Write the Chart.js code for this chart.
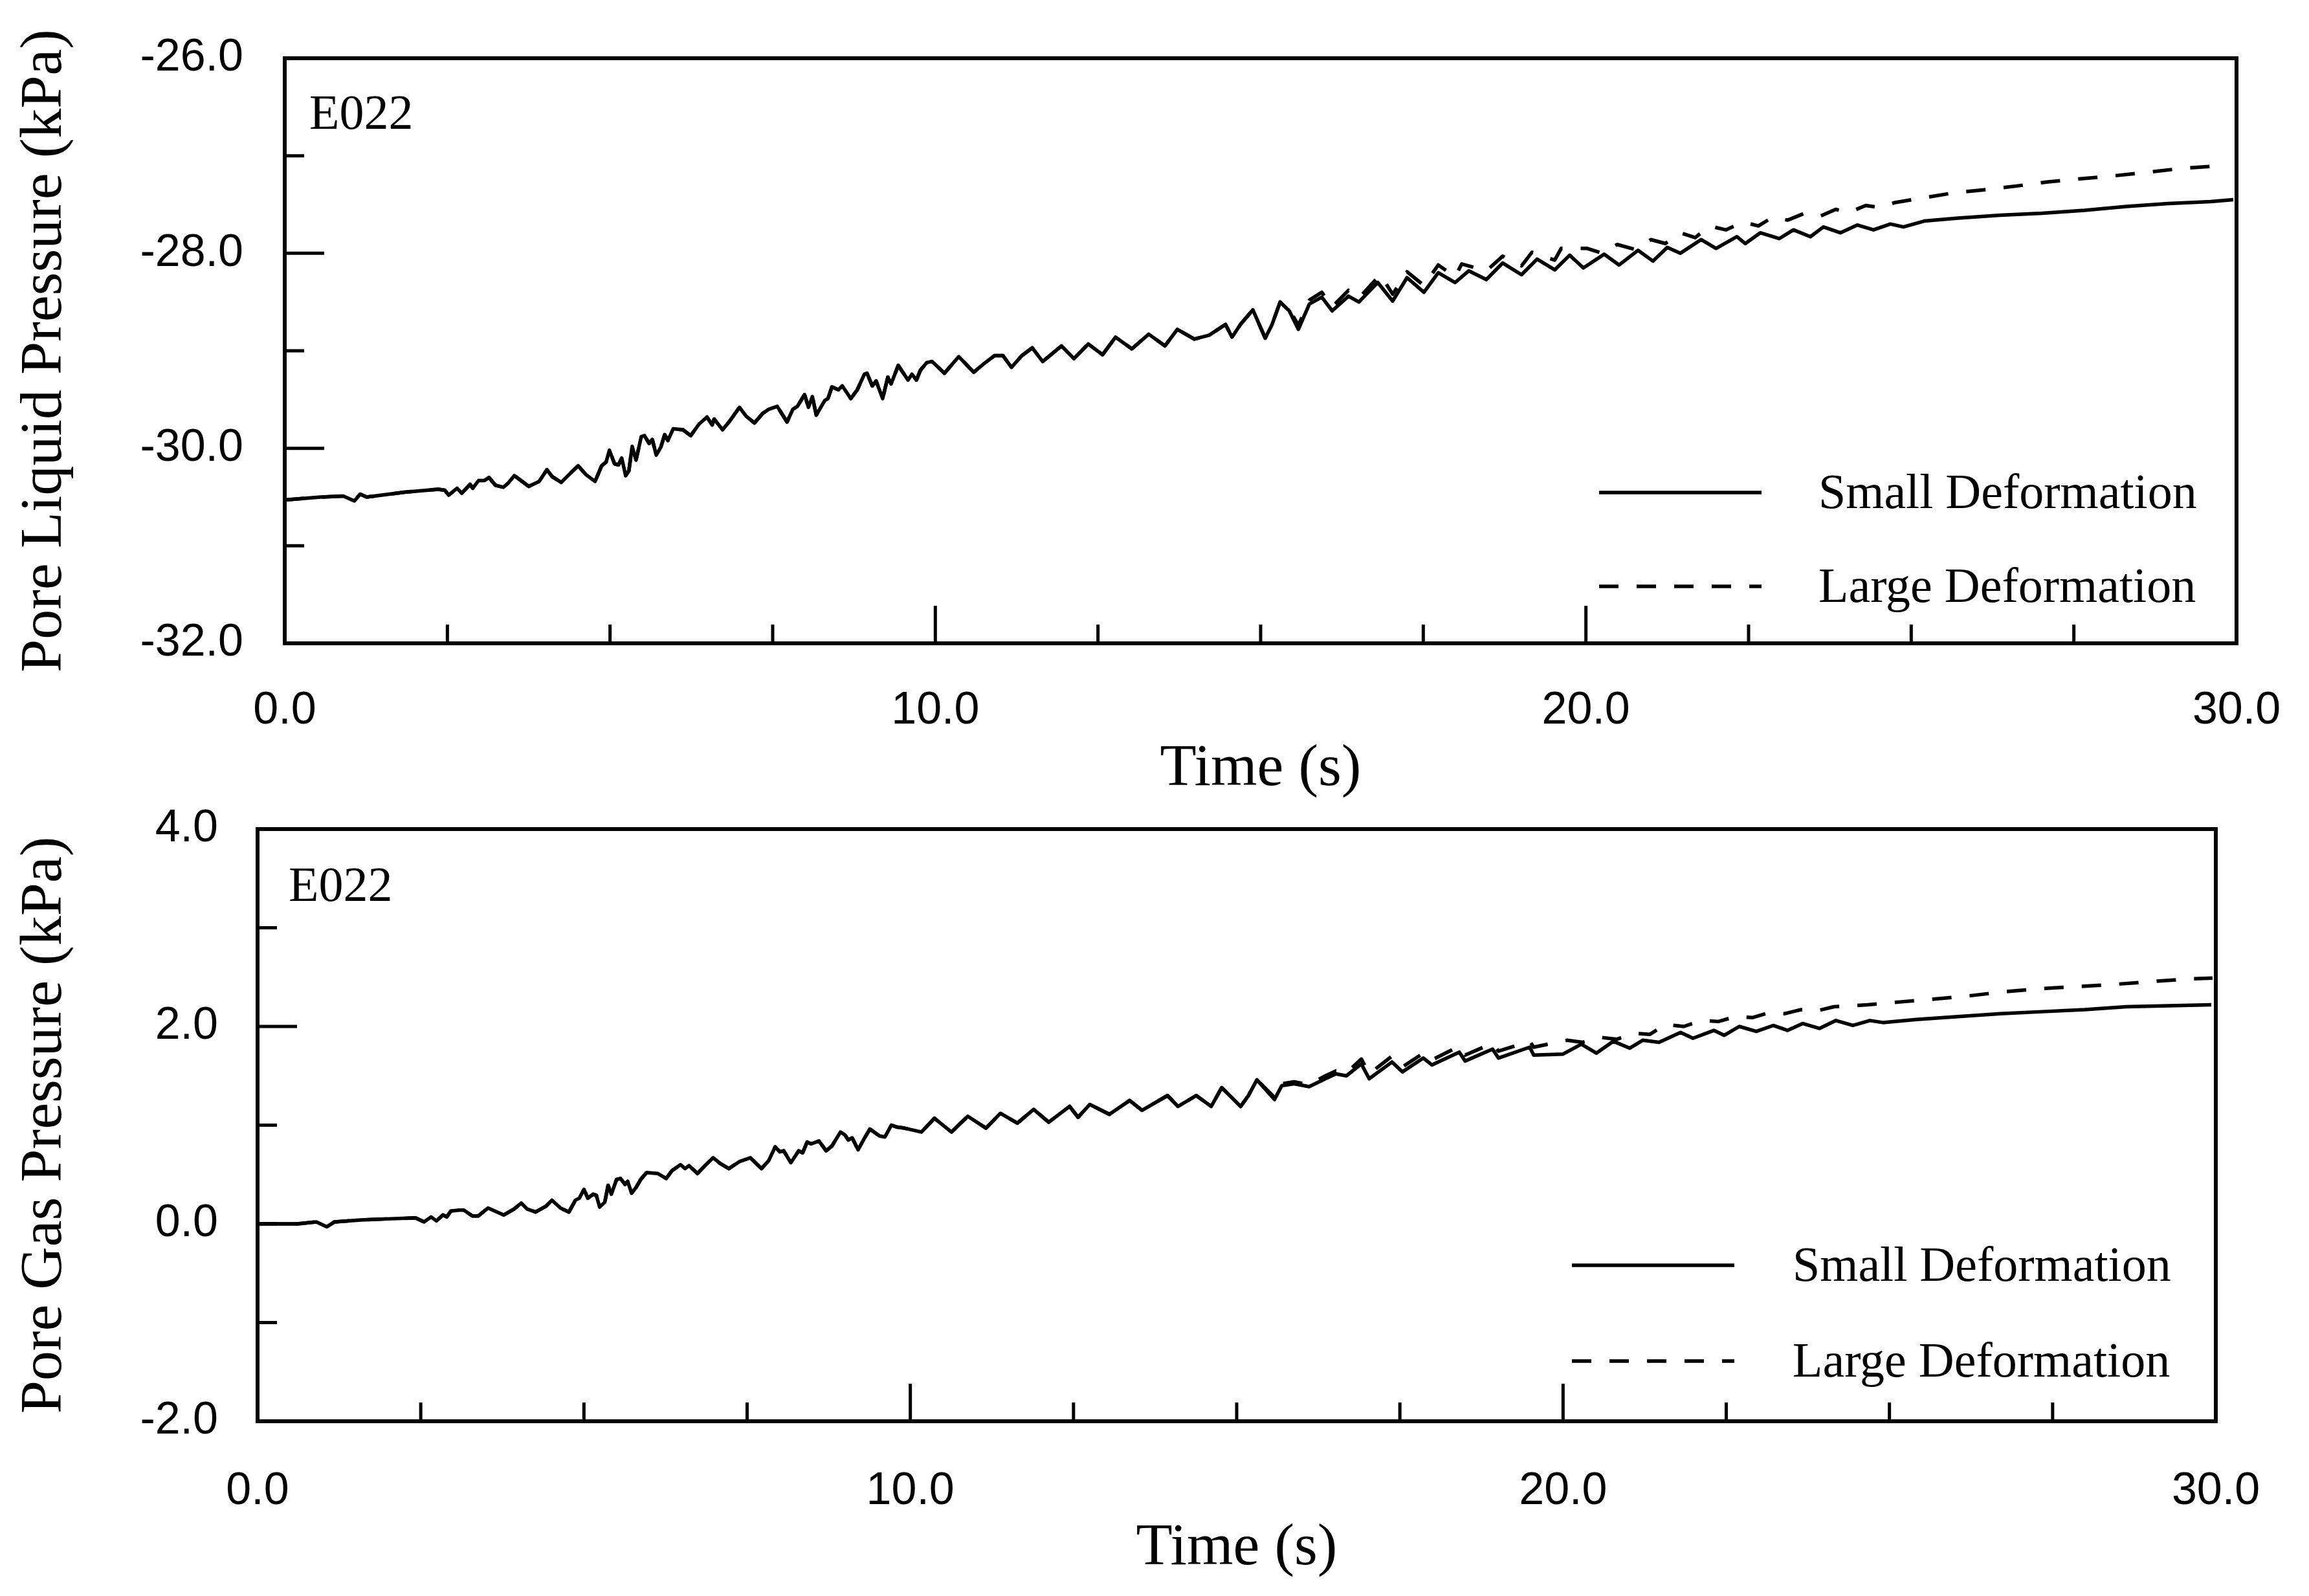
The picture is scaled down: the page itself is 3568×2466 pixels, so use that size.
<!DOCTYPE html>
<html>
<head>
<meta charset="utf-8">
<script src="https://cdn.jsdelivr.net/npm/chart.js@4.4.0/dist/chart.umd.min.js"></script>
<style>
  body { margin: 0; background: #fff; overflow: hidden; }
  canvas { position: absolute; left: 0; }
  #liquidChart { top: -20px; }
  #gasChart { top: 1170px; }
</style>
</head>
<body>
<canvas id="liquidChart" width="3600" height="1280" style="width:3600px;height:1280px"></canvas>
<canvas id="gasChart" width="3600" height="1296" style="width:3600px;height:1296px"></canvas>
<script>
// Pore liquid pressure, both runs overlap up to ~15 s
const liqSharedT = [0.0, 0.55, 0.90, 1.07, 1.16, 1.26, 1.84, 2.36, 2.46, 2.52, 2.65, 2.72, 2.85, 2.89, 2.98, 3.07, 3.14, 3.24, 3.36, 3.43, 3.53, 3.75, 3.91, 4.03, 4.11, 4.25, 4.40, 4.51, 4.63, 4.77, 4.87, 4.94, 4.99, 5.07, 5.13, 5.18, 5.24, 5.29, 5.34, 5.40, 5.48, 5.53, 5.60, 5.65, 5.71, 5.78, 5.84, 5.89, 5.97, 6.12, 6.24, 6.37, 6.49, 6.57, 6.60, 6.73, 6.84, 6.99, 7.09, 7.22, 7.35, 7.44, 7.57, 7.72, 7.81, 7.88, 7.99, 8.05, 8.11, 8.17, 8.30, 8.35, 8.41, 8.51, 8.57, 8.70, 8.80, 8.91, 8.95, 9.03, 9.09, 9.19, 9.27, 9.32, 9.43, 9.58, 9.64, 9.71, 9.77, 9.87, 9.95, 10.14, 10.36, 10.59, 10.75, 10.91, 11.04, 11.17, 11.33, 11.49, 11.65, 11.94, 12.13, 12.35, 12.57, 12.77, 13.02, 13.28, 13.53, 13.72, 13.98, 14.21, 14.46, 14.56, 14.69, 14.88, 15.07, 15.17, 15.30];
const liqSharedV = [-30.53, -30.50, -30.49, -30.54, -30.47, -30.50, -30.45, -30.42, -30.43, -30.48, -30.41, -30.46, -30.37, -30.41, -30.33, -30.33, -30.30, -30.38, -30.40, -30.36, -30.28, -30.39, -30.34, -30.22, -30.29, -30.35, -30.25, -30.18, -30.27, -30.34, -30.18, -30.14, -30.02, -30.16, -30.17, -30.10, -30.28, -30.23, -29.98, -30.12, -29.88, -29.87, -29.95, -29.91, -30.07, -29.99, -29.86, -29.92, -29.80, -29.81, -29.87, -29.75, -29.68, -29.76, -29.70, -29.81, -29.72, -29.58, -29.67, -29.74, -29.64, -29.60, -29.57, -29.73, -29.60, -29.57, -29.45, -29.58, -29.47, -29.66, -29.51, -29.49, -29.37, -29.40, -29.36, -29.49, -29.40, -29.24, -29.23, -29.36, -29.31, -29.49, -29.27, -29.34, -29.15, -29.30, -29.24, -29.30, -29.20, -29.12, -29.11, -29.23, -29.06, -29.22, -29.13, -29.05, -29.05, -29.17, -29.05, -28.97, -29.11, -28.95, -29.08, -28.93, -29.04, -28.86, -28.98, -28.83, -28.95, -28.78, -28.88, -28.84, -28.73, -28.86, -28.73, -28.58, -28.87, -28.74, -28.50];
const liqSmallTailT = [15.44, 15.58, 15.75, 15.94, 16.10, 16.35, 16.51, 16.80, 17.03, 17.25, 17.51, 17.73, 17.99, 18.20, 18.47, 18.72, 19.01, 19.25, 19.52, 19.75, 19.96, 20.28, 20.51, 20.80, 21.03, 21.25, 21.45, 21.77, 22.00, 22.32, 22.45, 22.68, 22.97, 23.19, 23.45, 23.65, 23.91, 24.17, 24.42, 24.68, 24.88, 25.20, 25.72, 26.37, 27.01, 27.66, 28.31, 28.95, 29.60, 29.95];
const liqSmallTailV = [-28.59, -28.78, -28.52, -28.45, -28.59, -28.44, -28.50, -28.30, -28.49, -28.25, -28.40, -28.20, -28.30, -28.18, -28.27, -28.10, -28.22, -28.06, -28.17, -28.02, -28.15, -28.01, -28.12, -27.97, -28.08, -27.94, -28.00, -27.86, -27.95, -27.83, -27.90, -27.79, -27.85, -27.76, -27.83, -27.73, -27.79, -27.71, -27.76, -27.70, -27.73, -27.67, -27.64, -27.61, -27.59, -27.56, -27.52, -27.49, -27.47, -27.45];
const liqLargeTailT = [15.44, 15.58, 15.75, 15.94, 16.10, 16.35, 16.51, 16.84, 17.03, 17.25, 17.51, 17.73, 17.99, 18.09, 18.47, 18.72, 19.01, 19.17, 19.52, 19.62, 20.02, 20.25, 20.48, 20.75, 21.00, 21.22, 21.45, 21.68, 21.90, 22.15, 22.42, 22.65, 22.87, 23.10, 23.36, 23.60, 23.84, 24.05, 24.30, 24.52, 24.75, 25.20, 25.66, 26.10, 26.62, 27.08, 27.53, 28.05, 28.63, 29.15, 29.80];
const liqLargeTailV = [-28.57, -28.74, -28.48, -28.40, -28.55, -28.38, -28.46, -28.22, -28.42, -28.19, -28.33, -28.12, -28.24, -28.11, -28.18, -28.03, -28.13, -27.99, -28.07, -27.95, -27.95, -28.00, -27.91, -27.96, -27.86, -27.90, -27.79, -27.84, -27.72, -27.76, -27.68, -27.72, -27.63, -27.66, -27.59, -27.62, -27.55, -27.58, -27.51, -27.53, -27.48, -27.43, -27.38, -27.35, -27.31, -27.27, -27.24, -27.21, -27.17, -27.13, -27.10];

// Pore gas pressure
const gasSharedT = [0.0, 0.61, 0.90, 1.06, 1.18, 1.58, 1.97, 2.42, 2.55, 2.66, 2.74, 2.84, 2.90, 2.96, 3.09, 3.16, 3.29, 3.38, 3.53, 3.77, 3.93, 4.04, 4.13, 4.26, 4.42, 4.51, 4.64, 4.77, 4.87, 4.93, 5.00, 5.06, 5.14, 5.19, 5.24, 5.32, 5.37, 5.42, 5.50, 5.56, 5.63, 5.67, 5.73, 5.80, 5.87, 5.96, 6.13, 6.26, 6.35, 6.48, 6.55, 6.61, 6.74, 6.84, 6.98, 7.09, 7.22, 7.38, 7.55, 7.72, 7.83, 7.93, 8.00, 8.06, 8.17, 8.29, 8.35, 8.42, 8.48, 8.60, 8.71, 8.80, 8.93, 9.00, 9.05, 9.11, 9.20, 9.29, 9.38, 9.53, 9.61, 9.71, 9.80, 9.91, 10.17, 10.37, 10.63, 10.88, 11.16, 11.38, 11.64, 11.89, 12.12, 12.44, 12.57, 12.75, 13.05, 13.36, 13.55, 13.94, 14.10, 14.38, 14.61, 14.77, 15.06, 15.18, 15.31];
const gasSharedV = [0.00, 0.00, 0.02, -0.03, 0.02, 0.04, 0.05, 0.06, 0.02, 0.07, 0.03, 0.09, 0.07, 0.13, 0.14, 0.14, 0.08, 0.08, 0.16, 0.09, 0.15, 0.21, 0.15, 0.12, 0.18, 0.24, 0.16, 0.12, 0.24, 0.26, 0.35, 0.26, 0.30, 0.29, 0.17, 0.22, 0.39, 0.30, 0.45, 0.46, 0.40, 0.43, 0.31, 0.37, 0.45, 0.52, 0.51, 0.46, 0.54, 0.60, 0.56, 0.59, 0.51, 0.58, 0.67, 0.61, 0.56, 0.63, 0.67, 0.56, 0.64, 0.78, 0.73, 0.74, 0.62, 0.74, 0.72, 0.83, 0.81, 0.84, 0.74, 0.79, 0.93, 0.90, 0.85, 0.87, 0.75, 0.86, 0.96, 0.89, 0.88, 1.00, 0.98, 0.97, 0.93, 1.07, 0.93, 1.09, 0.97, 1.12, 1.02, 1.16, 1.03, 1.19, 1.08, 1.21, 1.11, 1.25, 1.15, 1.30, 1.19, 1.30, 1.19, 1.38, 1.19, 1.30, 1.46];
const gasSmallTailT = [15.58, 15.69, 15.88, 16.11, 16.36, 16.52, 16.68, 16.91, 17.03, 17.38, 17.54, 17.86, 17.99, 18.41, 18.50, 18.92, 19.01, 19.49, 19.55, 20.00, 20.28, 20.51, 20.77, 21.02, 21.22, 21.47, 21.80, 21.99, 22.31, 22.47, 22.70, 22.96, 23.22, 23.44, 23.67, 23.93, 24.18, 24.44, 24.70, 24.90, 25.41, 26.05, 26.70, 27.34, 27.99, 28.63, 29.28, 29.93];
const gasSmallTailV = [1.26, 1.40, 1.42, 1.39, 1.47, 1.52, 1.50, 1.62, 1.47, 1.64, 1.54, 1.68, 1.61, 1.74, 1.65, 1.77, 1.68, 1.79, 1.71, 1.72, 1.82, 1.73, 1.85, 1.78, 1.86, 1.84, 1.94, 1.88, 1.96, 1.91, 2.00, 1.95, 2.01, 1.96, 2.03, 1.98, 2.06, 2.01, 2.06, 2.04, 2.07, 2.10, 2.13, 2.15, 2.17, 2.20, 2.21, 2.22];
const gasLargeTailT = [15.58, 15.69, 15.88, 16.11, 16.36, 16.52, 16.68, 16.91, 17.03, 17.38, 17.54, 17.86, 17.99, 18.41, 18.50, 18.92, 19.01, 19.49, 19.55, 20.06, 20.30, 20.57, 20.82, 21.09, 21.33, 21.57, 21.85, 22.12, 22.38, 22.64, 22.90, 23.16, 23.40, 23.64, 23.90, 24.15, 24.67, 25.19, 25.73, 26.22, 26.73, 27.25, 27.76, 28.31, 28.92, 29.54, 29.95];
const gasLargeTailV = [1.28, 1.42, 1.44, 1.41, 1.50, 1.55, 1.53, 1.67, 1.52, 1.70, 1.59, 1.73, 1.66, 1.80, 1.71, 1.83, 1.75, 1.85, 1.79, 1.86, 1.84, 1.89, 1.87, 1.93, 1.92, 2.02, 2.00, 2.06, 2.05, 2.10, 2.09, 2.14, 2.13, 2.17, 2.16, 2.20, 2.22, 2.25, 2.28, 2.31, 2.35, 2.38, 2.40, 2.42, 2.45, 2.48, 2.49];

const seriesNames = ['Small Deformation', 'Large Deformation'];
const timeTicks = [0, 30, 2.5];   // min, max, step
const liqTicks = [-32, -26, 1];
const gasTicks = [-2, 4, 1];

const toPoints = (ts, vs) => ts.map((t, i) => ({x: t, y: vs[i]}));

// box, inward ticks, tag and legend drawn on top of the plot area
const framePlugin = {
    id: 'frame',
    afterDraw(chart, args, opts) {
        const {ctx, chartArea: a, scales: {x, y}} = chart;
        ctx.save();
        ctx.strokeStyle = '#000';
        ctx.fillStyle = '#000';
        ctx.lineWidth = 6;
        ctx.strokeRect(a.left, a.top, a.right - a.left, a.bottom - a.top);
        ctx.lineWidth = 5;
        ctx.beginPath();
        x.ticks.forEach(t => {
            if (t.value <= x.min || t.value >= x.max) return;
            const px = x.getPixelForValue(t.value);
            const len = t.value % 10 === 0 ? 58 : 29;
            ctx.moveTo(px, a.bottom);
            ctx.lineTo(px, a.bottom - len);
        });
        y.ticks.forEach(t => {
            if (t.value <= y.min || t.value >= y.max) return;
            const py = y.getPixelForValue(t.value);
            const len = t.value % 2 === 0 ? 61 : 30;
            ctx.moveTo(a.left, py);
            ctx.lineTo(a.left + len, py);
        });
        ctx.stroke();

        ctx.font = '76px "Liberation Serif"';
        ctx.textBaseline = 'alphabetic';
        ctx.fillText(opts.tag, a.left + opts.tagDx, a.top + opts.tagDy);

        chart.data.datasets.forEach((ds, i) => {
            const ly = a.bottom - opts.legendRows[i];
            ctx.lineWidth = ds.borderWidth;
            ctx.setLineDash(ds.borderDash || []);
            ctx.beginPath();
            ctx.moveTo(a.right - opts.legendLineX, ly);
            ctx.lineTo(a.right - opts.legendLineX + 251, ly);
            ctx.stroke();
            ctx.setLineDash([]);
            ctx.fillText(ds.label, a.right - opts.legendTextX, ly + 24);
        });
        ctx.restore();
    }
};

function makeChart(canvasId, cfg) {
    const ctx = document.getElementById(canvasId).getContext('2d');
    return new Chart(ctx, {
        type: 'line',
        data: {
            datasets: [{
                label: seriesNames[0],
                data: cfg.small,
                borderColor: '#000',
                borderWidth: 5.5,
                borderJoinStyle: 'round'
            }, {
                label: seriesNames[1],
                data: cfg.large,
                borderColor: '#000',
                borderWidth: 5.5,
                borderDash: [30, 28],
                borderJoinStyle: 'round'
            }]
        },
        options: {
            responsive: false,
            devicePixelRatio: 1,
            animation: false,
            layout: {padding: {top: cfg.padTop, right: cfg.padRight, bottom: 0, left: 0}},
            elements: {point: {radius: 0}, line: {tension: 0}},
            plugins: {
                legend: {display: false}, // drawn by frame plugin
                tooltip: {enabled: false},
                frame: cfg.frame
            },
            scales: {
                x: {
                    type: 'linear',
                    min: timeTicks[0],
                    max: timeTicks[1],
                    grid: {display: false, drawTicks: false},
                    border: {display: false},
                    ticks: {
                        stepSize: timeTicks[2],
                        autoSkip: false,
                        maxRotation: 0,
                        padding: cfg.xTickPad,
                        color: '#000',
                        font: {family: 'Liberation Sans', size: 70},
                        callback: v => v % 10 === 0 ? v.toFixed(1) : ''
                    },
                    title: {
                        display: true,
                        text: 'Time (s)',
                        color: '#000',
                        font: {family: 'Liberation Serif', size: 92},
                        padding: {top: 0, bottom: cfg.xTitlePad}
                    },
                    afterFit: s => { s.height = cfg.xHeight; }
                },
                y: {
                    min: cfg.yTicks[0],
                    max: cfg.yTicks[1],
                    grid: {display: false, drawTicks: false},
                    border: {display: false},
                    ticks: {
                        stepSize: cfg.yTicks[2],
                        autoSkip: false,
                        padding: cfg.yTickPad,
                        color: '#000',
                        font: {family: 'Liberation Sans', size: 70},
                        callback: v => v % 2 === 0 ? v.toFixed(1) : ''
                    },
                    title: {
                        display: true,
                        text: cfg.yTitle,
                        color: '#000',
                        font: {family: 'Liberation Serif', size: 92},
                        padding: {top: 15, bottom: 0}
                    },
                    afterFit: s => { s.width = cfg.yWidth; }
                }
            }
        },
        plugins: [framePlugin]
    });
}

makeChart('liquidChart', {
    small: toPoints(liqSharedT.concat(liqSmallTailT), liqSharedV.concat(liqSmallTailV)),
    large: toPoints(liqSharedT.concat(liqLargeTailT), liqSharedV.concat(liqLargeTailV)),
    yTicks: liqTicks,
    yTitle: 'Pore Liquid Pressure (kPa)',
    padTop: 110,
    padRight: 144,
    yWidth: 440,
    xHeight: 266,
    xTickPad: 63,
    yTickPad: 64,
    xTitlePad: 16,
    frame: {tag: 'E022', tagDx: 38, tagDy: 109, legendRows: [233, 88], legendLineX: 985, legendTextX: 646}
});

makeChart('gasChart', {
    small: toPoints(gasSharedT.concat(gasSmallTailT), gasSharedV.concat(gasSmallTailV)),
    large: toPoints(gasSharedT.concat(gasLargeTailT), gasSharedV.concat(gasLargeTailV)),
    yTicks: gasTicks,
    yTitle: 'Pore Gas Pressure (kPa)',
    padTop: 111,
    padRight: 176,
    yWidth: 398,
    xHeight: 270,
    xTickPad: 67,
    yTickPad: 61,
    xTitlePad: 18,
    frame: {tag: 'E022', tagDx: 48, tagDy: 111, legendRows: [241, 93], legendLineX: 995, legendTextX: 654}
});
</script>
</body>
</html>
